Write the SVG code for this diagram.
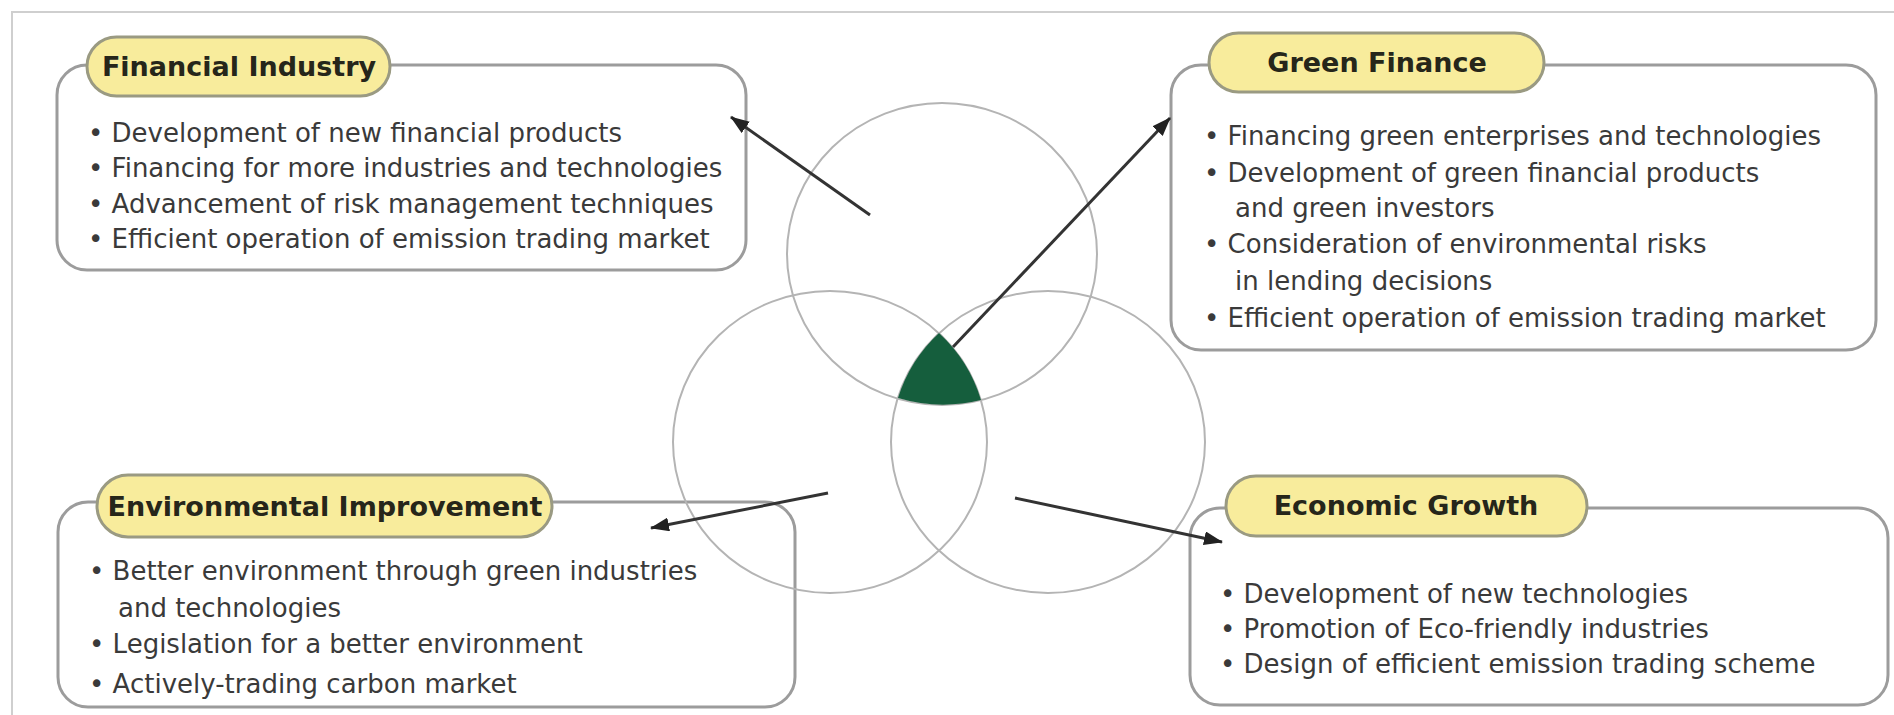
<svg xmlns="http://www.w3.org/2000/svg" width="1894" height="715" viewBox="0 0 1894 715">
<defs>
<style>
.frame{stroke:#cfcfcf;stroke-width:2;fill:none}
.box{fill:#ffffff;stroke:#9c9c9c;stroke-width:3}
.pill{fill:#f8ec9c;stroke:#9a9a82;stroke-width:3}
.title{font-family:"DejaVu Sans","Liberation Sans",sans-serif;font-weight:bold;font-size:27px;fill:#26261a;text-anchor:middle}
.body{font-family:"DejaVu Sans","Liberation Sans",sans-serif;font-size:26px;fill:#3a3a3a}
.ring{fill:none;stroke:#b4b4b4;stroke-width:2}
.arrow{stroke:#333333;stroke-width:3;fill:none;marker-end:url(#ah)}
</style>
<marker id="ah" markerUnits="userSpaceOnUse" markerWidth="20" markerHeight="14" refX="18" refY="7" orient="auto">
<path d="M0,0 L19,7 L0,14 Z" fill="#222222"/>
</marker>
</defs>
<rect width="1894" height="715" fill="#ffffff"/>
<path class="frame" d="M12,715 L12,12 L1894,12"/>

<g id="financial-industry">
<rect class="box" x="57" y="65" width="689" height="205" rx="30"/>
<rect class="pill" x="87" y="37" width="303" height="59" rx="29.5"/>
<text class="title" x="239" y="76">Financial Industry</text>
<text class="body" x="88" y="142">• Development of new financial products</text>
<text class="body" x="88" y="177">• Financing for more industries and technologies</text>
<text class="body" x="88" y="213">• Advancement of risk management techniques</text>
<text class="body" x="88" y="248">• Efficient operation of emission trading market</text>
</g>

<g id="green-finance">
<rect class="box" x="1171" y="65" width="705" height="285" rx="30"/>
<rect class="pill" x="1209" y="33" width="335" height="59" rx="29.5"/>
<text class="title" x="1377" y="72">Green Finance</text>
<text class="body" x="1204" y="145">• Financing green enterprises and technologies</text>
<text class="body" x="1204" y="182">• Development of green financial products</text>
<text class="body" x="1235" y="217">and green investors</text>
<text class="body" x="1204" y="253">• Consideration of environmental risks</text>
<text class="body" x="1235" y="290">in lending decisions</text>
<text class="body" x="1204" y="327">• Efficient operation of emission trading market</text>
</g>

<g id="environmental-improvement">
<rect class="box" x="58" y="502" width="737" height="205" rx="30"/>
<rect class="pill" x="97" y="475" width="455" height="62" rx="31"/>
<text class="title" x="325" y="516">Environmental Improvement</text>
<text class="body" x="89" y="580">• Better environment through green industries</text>
<text class="body" x="118" y="617">and technologies</text>
<text class="body" x="89" y="653">• Legislation for a better environment</text>
<text class="body" x="89" y="693">• Actively-trading carbon market</text>
</g>

<g id="economic-growth">
<rect class="box" x="1190" y="508" width="698" height="197" rx="30"/>
<rect class="pill" x="1226" y="476" width="361" height="60" rx="30"/>
<text class="title" x="1406" y="515">Economic Growth</text>
<text class="body" x="1220" y="603">• Development of new technologies</text>
<text class="body" x="1220" y="638">• Promotion of Eco-friendly industries</text>
<text class="body" x="1220" y="673">• Design of efficient emission trading scheme</text>
</g>

<g id="venn">
<ellipse class="ring" cx="942" cy="254" rx="155" ry="151"/>
<ellipse class="ring" cx="830" cy="442" rx="157" ry="151"/>
<ellipse class="ring" cx="1048" cy="442" rx="157" ry="151"/>
<path d="M939,333 A157,151 0 0 0 898,398 A155,151 0 0 0 981,400 A157,151 0 0 0 939,333 Z" fill="#155e3d"/>
</g>

<g id="connectors">
<line class="arrow" x1="870" y1="215" x2="731" y2="117"/>
<line class="arrow" x1="953" y1="347" x2="1170" y2="118"/>
<line class="arrow" x1="828" y1="493" x2="651" y2="528"/>
<line class="arrow" x1="1015" y1="498" x2="1222" y2="542"/>
</g>
</svg>
